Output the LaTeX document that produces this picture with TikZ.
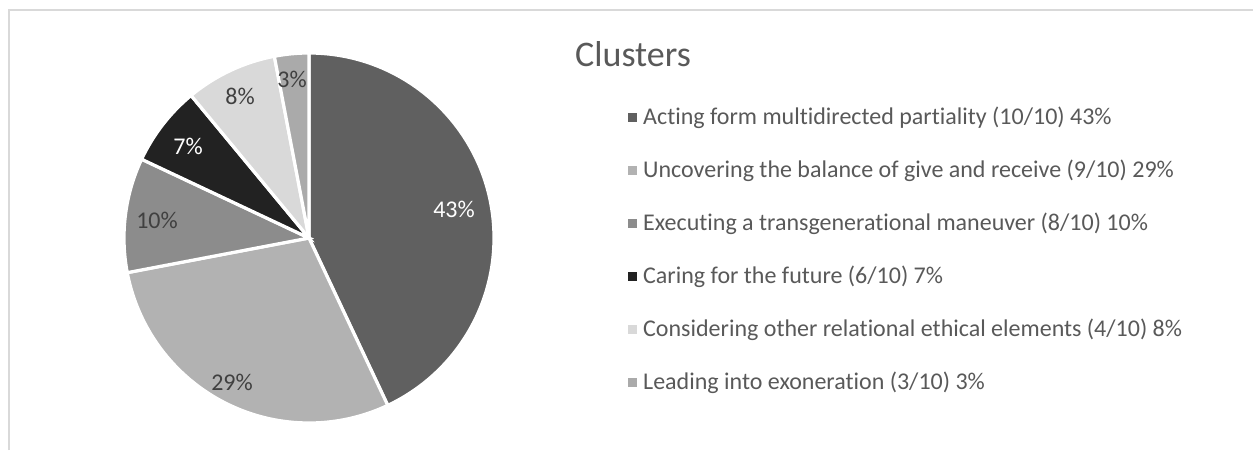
\documentclass[tikz,border=0pt]{standalone}
\usepackage{fontspec}
\setmainfont{Carlito}[Ligatures={NoCommon}]
\definecolor{cA}{RGB}{96,96,96}
\definecolor{cB}{RGB}{178,178,178}
\definecolor{cC}{RGB}{140,140,140}
\definecolor{cD}{RGB}{34,34,34}
\definecolor{cE}{RGB}{217,217,217}
\definecolor{cF}{RGB}{170,170,170}
\definecolor{txt}{RGB}{89,89,89}
\definecolor{lbl}{RGB}{64,64,64}
\definecolor{frame}{RGB}{217,217,217}
\tikzset{
  slice/.style={draw=white, line width=3.2pt, line join=miter},
  pielbl/.style={font=\fontsize{24}{28}\selectfont, text=lbl, inner sep=0pt},
  legtxt/.style={font=\fontsize{24}{28}\selectfont, text=txt, inner sep=0pt, anchor=base west},
  legbox/.style={minimum width=9pt, minimum height=9pt, inner sep=0pt},
}
\begin{document}
\begin{tikzpicture}[x=1pt,y=-1pt]
\useasboundingbox (0,0) rectangle (1253,450);
\fill[white] (0,0) rectangle (1253,450);
% frame (cropped chart area)
\draw[frame, line width=1.3pt] (9,450) -- (9,10) -- (1253,10);
% pie (y axis points down, so angles grow clockwise)
\coordinate (c) at (309,238);
\def\R{185}
\fill[cA, slice] (c) -- ++(-90:\R) arc[start angle=-90, end angle=64.8, radius=\R] -- cycle;
\fill[cB, slice] (c) -- ++(64.8:\R) arc[start angle=64.8, end angle=169.2, radius=\R] -- cycle;
\fill[cC, slice] (c) -- ++(169.2:\R) arc[start angle=169.2, end angle=205.2, radius=\R] -- cycle;
\fill[cD, slice] (c) -- ++(205.2:\R) arc[start angle=205.2, end angle=230.4, radius=\R] -- cycle;
\fill[cE, slice] (c) -- ++(230.4:\R) arc[start angle=230.4, end angle=259.2, radius=\R] -- cycle;
\fill[cF, slice] (c) -- ++(259.2:\R) arc[start angle=259.2, end angle=270, radius=\R] -- cycle;
% pie labels
\node[pielbl, text=white] (l43) at (454,209) {43\%};
\node[pielbl] (l29) at (232,382) {29\%};
\node[pielbl] (l10) at (157,220) {10\%};
\node[pielbl, text=white] (l7) at (188,146) {7\%};
\node[pielbl] (l8) at (240,96) {8\%};
\node[pielbl] (l3) at (292,79) {3\%};
% title
\node[font=\fontsize{36}{40}\selectfont, text=txt, inner sep=0pt, anchor=base west] (title) at (575,66) {Clusters};
% legend
\node[legbox, fill=cA] (k1) at (632.5,117.5) {};
\node[legtxt] (t1) at (643,124) {Acting form multidirected partiality (10/10) 43\%};
\node[legbox, fill=cB] (k2) at (632.5,170.5) {};
\node[legtxt] (t2) at (643,177) {Uncovering the balance of give and receive (9/10) 29\%};
\node[legbox, fill=cC] (k3) at (632.5,223.5) {};
\node[legtxt] (t3) at (643,230) {Executing a transgenerational maneuver (8/10) 10\%};
\node[legbox, fill=cD] (k4) at (632.5,276.5) {};
\node[legtxt] (t4) at (643,283) {Caring for the future (6/10) 7\%};
\node[legbox, fill=cE] (k5) at (632.5,329.5) {};
\node[legtxt] (t5) at (643,336) {Considering other relational ethical elements (4/10) 8\%};
\node[legbox, fill=cF] (k6) at (632.5,382.5) {};
\node[legtxt] (t6) at (643,389) {Leading into exoneration (3/10) 3\%};
\end{tikzpicture}
\end{document}
